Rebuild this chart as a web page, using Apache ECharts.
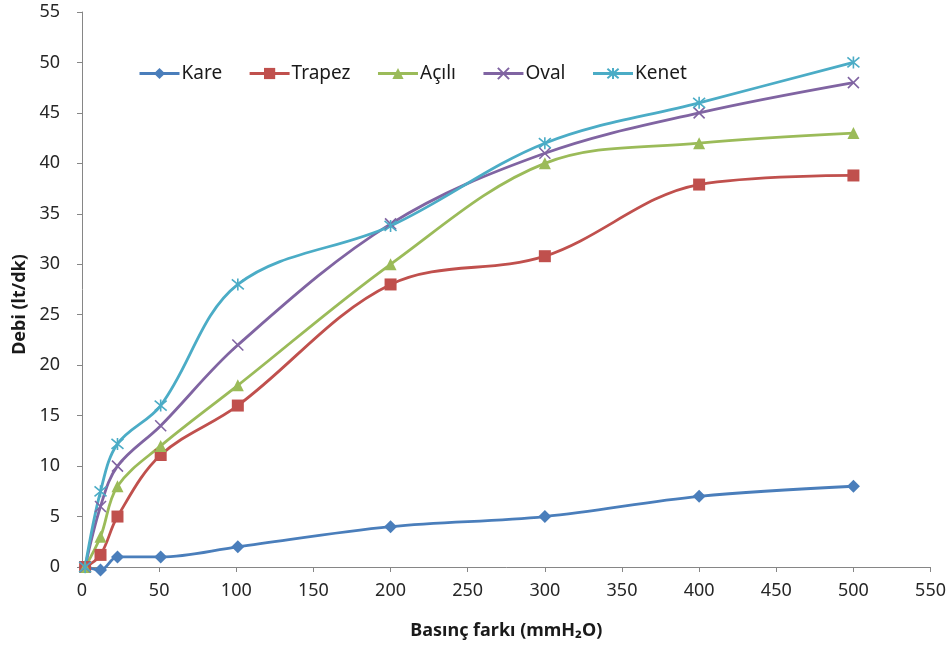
<!DOCTYPE html>
<html>
<head>
<meta charset="utf-8">
<title>Debi - Basınç farkı</title>
<script src="https://cdn.jsdelivr.net/npm/echarts@6/dist/echarts.min.js"></script>
<style>
  html, body { margin: 0; padding: 0; background: #ffffff; }
  #chart { width: 949px; height: 648px; }
</style>
</head>
<body>
<div id="chart"></div>
<script>
// Pressure difference (mmH2O) at each measurement
var basincFarki = [2, 12, 23, 51, 101, 200, 300, 400, 500];

// Flow rate (lt/dk) for each profile
var kare   = [0, -0.3, 1, 1, 2, 4, 5, 7, 8];
var trapez = [0, 1.2, 5, 11.1, 16, 28, 30.8, 37.9, 38.8];
var acili  = [0, 3, 8, 12, 18, 30, 40, 42, 43];
var oval   = [0, 6, 10, 14, 22, 34, 41, 45, 48];
var kenet  = [0, 7.5, 12.2, 16, 28, 33.8, 42, 46, 50];

var seriesNames = ['Kare', 'Trapez', 'Açılı', 'Oval', 'Kenet'];
var seriesValues = [kare, trapez, acili, oval, kenet];
var seriesColors = ['#4A7EBB', '#C0504D', '#9BBB59', '#8064A2', '#4BACC6'];

var xPath = 'path://M0,0L10,10M10,0L0,10';
var starPath = 'path://M0,0L10,10M10,0L0,10M5,-1L5,11';
var seriesSymbols = ['diamond', 'rect', 'triangle', xPath, starPath];
var symbolSizes = [13, 12, 12, 11, 12];

var fontFamily = '"Noto Sans", "Open Sans", sans-serif';

function pairs(xs, ys) {
  return xs.map(function (x, i) { return [x, ys[i]]; });
}

var series = seriesNames.map(function (name, i) {
  var isStroke = i >= 3;
  return {
    name: name,
    type: 'line',
    smooth: 0.35,
    clip: false,
    data: pairs(basincFarki, seriesValues[i]),
    symbol: seriesSymbols[i],
    symbolSize: symbolSizes[i],
    showAllSymbol: true,
    color: seriesColors[i],
    lineStyle: { width: 2.8, color: seriesColors[i] },
    itemStyle: isStroke
      ? { color: 'rgba(0,0,0,0)', borderColor: seriesColors[i], borderWidth: 1.6 }
      : { color: seriesColors[i], borderWidth: 0 },
    emphasis: { disabled: true }
  };
});

var chart = echarts.init(document.getElementById('chart'), null, { renderer: 'canvas' });
chart.setOption({
  animation: false,
  backgroundColor: '#ffffff',
  textStyle: { fontFamily: fontFamily },
  grid: { left: 82, right: 14, top: 12, bottom: 81, containLabel: false },
  legend: {
    data: seriesNames,
    left: 133,
    top: 59,
    itemWidth: 40,
    itemHeight: 14,
    itemGap: 26,
    lineStyle: { width: 3 },
    textStyle: { fontSize: 19, color: '#1a1a1a', fontFamily: fontFamily, padding: [0, 0, 0, -3] }
  },
  xAxis: {
    type: 'value',
    min: 0,
    max: 550,
    interval: 50,
    name: 'Basınç farkı (mmH₂O)',
    nameLocation: 'middle',
    nameGap: 55,
    nameTextStyle: { fontSize: 18, fontWeight: 'bold', color: '#1a1a1a' },
    axisLine: { show: true, lineStyle: { color: '#868686', width: 1 } },
    axisTick: { show: true, length: 5, lineStyle: { color: '#868686' } },
    axisLabel: { fontSize: 18, color: '#262626', margin: 15 },
    splitLine: { show: false }
  },
  yAxis: {
    type: 'value',
    min: 0,
    max: 55,
    interval: 5,
    name: 'Debi (lt/dk)',
    nameLocation: 'middle',
    nameGap: 48,
    nameRotate: 90,
    nameTextStyle: { fontSize: 18, fontWeight: 'bold', color: '#1a1a1a', padding: [0, 30, 0, 0] },
    axisLine: { show: true, lineStyle: { color: '#868686', width: 1 } },
    axisTick: { show: true, length: 5, lineStyle: { color: '#868686' } },
    axisLabel: { fontSize: 18, color: '#262626', margin: 22 },
    splitLine: { show: false }
  },
  series: series
});
</script>
</body>
</html>
